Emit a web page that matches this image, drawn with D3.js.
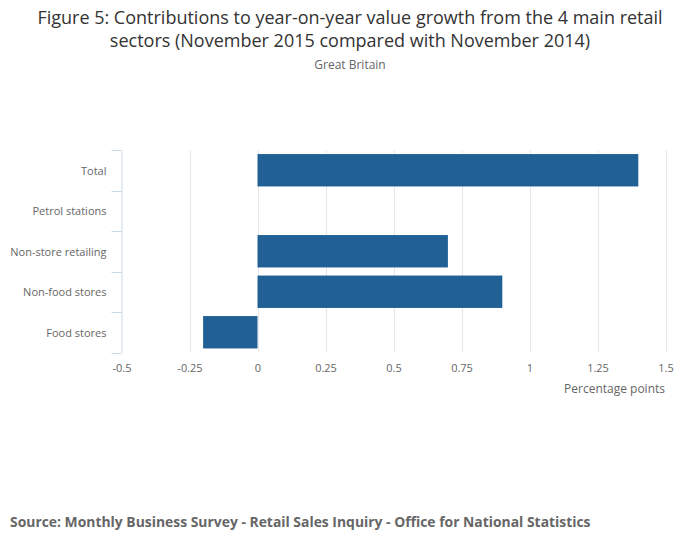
<!DOCTYPE html>
<html><head><meta charset="utf-8">
<script src="https://cdn.jsdelivr.net/npm/d3@7"></script>
<style>body{margin:0;background:#fff}svg{display:block;font-family:"Open Sans",sans-serif}</style>
</head><body><svg id="c" width="700" height="549"></svg>
<script>
const categories = ["Total","Petrol stations","Non-store retailing","Non-food stores","Food stores"];
const values = [1.4, 0, 0.7, 0.9, -0.2];
const xTicks = [-0.5,-0.25,0,0.25,0.5,0.75,1,1.25,1.5];
const xTickLabels = ["-0.5","-0.25","0","0.25","0.5","0.75","1","1.25","1.5"];

(function(){
const svg = d3.select("#c");
const pLeft = 121.5, pRight = 665.5, pTop = 150, pBottom = 352.5;
const x = d3.scaleLinear().domain([-0.5,1.5]).range([pLeft,pRight]);
const y = d3.scaleBand().domain(categories).range([pTop,pBottom]).paddingInner(0.2).paddingOuter(0.1);
const yb = d3.scaleBand().domain(categories).range([pTop,pBottom]);

svg.append("text").attr("x",350).attr("y",24).attr("text-anchor","middle").attr("font-size",18).attr("fill","#333")
  .text("Figure 5: Contributions to year-on-year value growth from the 4 main retail");
svg.append("text").attr("x",350).attr("y",47).attr("text-anchor","middle").attr("font-size",18).attr("fill","#333")
  .text("sectors (November 2015 compared with November 2014)");
svg.append("text").attr("x",350).attr("y",69).attr("text-anchor","middle").attr("font-size",12).attr("fill","#666")
  .text("Great Britain");

// gridlines
svg.append("g").selectAll("line").data(xTicks.slice(1)).join("line")
  .attr("x1",d=>Math.round(x(d))+0.5).attr("x2",d=>Math.round(x(d))+0.5)
  .attr("y1",pTop).attr("y2",pBottom).attr("stroke","#e6e6e6").attr("stroke-width",1);

// bars
svg.append("g").selectAll("rect").data(categories).join("rect")
  .attr("x",(d,i)=>x(Math.min(0,values[i])))
  .attr("width",(d,i)=>Math.abs(x(values[i])-x(0)))
  .attr("y",d=>y(d)).attr("height",y.bandwidth())
  .attr("fill","#206095");

// y axis
const ya = svg.append("g").attr("transform",`translate(${pLeft},1)`)
  .call(d3.axisLeft(yb).tickSize(0).tickPadding(15));
ya.select(".domain").attr("stroke","#ccd6eb").attr("transform","translate(0,-1)");
ya.selectAll("text").attr("font-size",11).attr("fill","#666").attr("font-family","Open Sans, sans-serif");
const bounds = categories.map(c=>yb(c)).concat([pBottom]);
svg.append("g").selectAll("line").data(bounds).join("line")
  .attr("x1",pLeft-10).attr("x2",pLeft).attr("y1",d=>Math.round(d)+0.5).attr("y2",d=>Math.round(d)+0.5)
  .attr("stroke","#ccd6eb");

// x axis labels
const xa = svg.append("g").attr("transform",`translate(0,${pBottom})`)
  .call(d3.axisBottom(x).tickValues(xTicks).tickFormat((d,i)=>xTickLabels[i]).tickSize(0).tickPadding(12));
xa.select(".domain").remove();
xa.selectAll("text").attr("font-size",11).attr("fill","#666").attr("font-family","Open Sans, sans-serif");

svg.append("text").attr("x",665).attr("y",393).attr("text-anchor","end").attr("font-size",12).attr("fill","#666")
  .text("Percentage points");

svg.append("text").attr("x",10).attr("y",527).attr("font-size",13.9).attr("font-weight","bold").attr("fill","#666")
  .text("Source: Monthly Business Survey - Retail Sales Inquiry - Office for National Statistics");
})();
</script></body></html>
